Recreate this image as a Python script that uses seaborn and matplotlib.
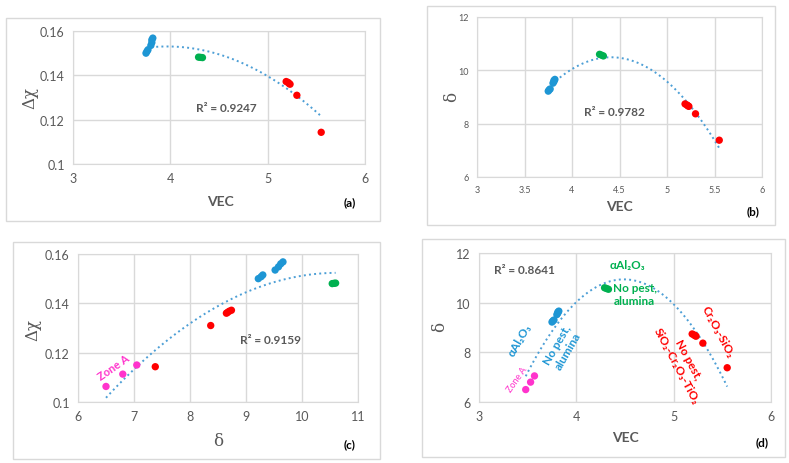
import numpy as np
import pandas as pd
import seaborn as sns
import matplotlib.pyplot as plt
from matplotlib.patches import Rectangle

# point groups (blue = alumina at low VEC, green = alumina near 4.3, red = high VEC, pink = Zone A)
group = ['blue'] * 7 + ['green'] * 3 + ['red'] * 6 + ['zone'] * 3
vec = [3.75, 3.76, 3.77, 3.80, 3.81, 3.81, 3.82,
       4.29, 4.31, 4.33,
       5.19, 5.21, 5.22, 5.23, 5.30, 5.55,
       3.48, 3.53, 3.57]
delta = [9.22, 9.27, 9.30, 9.52, 9.58, 9.62, 9.66,
         10.60, 10.57, 10.54,
         8.74, 8.70, 8.67, 8.65, 8.37, 7.38,
         6.50, 6.80, 7.05]
dchi = [0.1500, 0.1508, 0.1515, 0.1535, 0.1548, 0.1560, 0.1568,
        0.1482, 0.1481, 0.1480,
        0.1372, 0.1368, 0.1363, 0.1360, 0.1310, 0.1143,
        0.1063, 0.1113, 0.1150]

df = pd.DataFrame({'group': group, 'VEC': vec, 'delta': delta, 'dchi': dchi})
no_zone = df[df['group'] != 'zone']

colors = {'blue': '#1e96d4', 'green': '#00b050', 'red': '#ff0000', 'zone': '#ff33cc'}
grey = '#595959'
trend = '#4d9fd6'

plt.rcParams['font.family'] = ['Lato', 'DejaVu Sans']

fig = plt.figure(figsize=(7.89, 4.64), dpi=100)
W, H = 789, 464


def add_frame(x0, y0, x1, y1):
    fig.patches.append(Rectangle((x0 / W, 1 - y1 / H), (x1 - x0) / W, (y1 - y0) / H,
                                 transform=fig.transFigure, fill=False,
                                 edgecolor='#d9d9d9', linewidth=1))


def add_panel(x0, y0, x1, y1):
    return fig.add_axes([x0 / W, 1 - y1 / H, (x1 - x0) / W, (y1 - y0) / H])


def style(ax, xlim, ylim, xticks, yticks, xlabels, ylabels, fs):
    ax.set_xlim(xlim)
    ax.set_ylim(ylim)
    ax.set_xticks(xticks, xlabels)
    ax.set_yticks(yticks, ylabels)
    ax.grid(True, color='#d9d9d9', linewidth=1)
    ax.set_axisbelow(True)
    for s in ax.spines.values():
        s.set_color('#d9d9d9')
    ax.tick_params(length=0, labelsize=fs, labelcolor=grey, pad=6)
    ax.set_xlabel('')
    ax.set_ylabel('')
    leg = ax.get_legend()
    if leg:
        leg.remove()


def draw(ax, data, x, y):
    sns.regplot(data=data, x=x, y=y, order=2, ci=None, scatter=False, truncate=True,
                ax=ax, line_kws=dict(color=trend, linestyle=':', linewidth=1.4))
    sns.scatterplot(data=data, x=x, y=y, hue='group', palette=colors, s=28,
                    edgecolor='none', ax=ax, zorder=3)


def label(x, y, s, **kw):
    fig.text(x / W, 1 - y / H, s, ha='center', va='center', **kw)


R2 = dict(ha='center', va='center', fontsize=8.5, fontweight='bold', color=grey)
TXT = dict(ha='center', va='center', fontsize=8.5, fontweight='bold')
SYM = dict(fontsize=12, color=grey, family='DejaVu Serif')
TITLE = dict(fontsize=10, fontweight='bold', color=grey)
TAG = dict(fontsize=8.5, fontweight='bold', color='black')

# ---------------- (a) ----------------
add_frame(6, 19, 380, 222)
ax = add_panel(73, 32, 365, 165)
draw(ax, no_zone, 'VEC', 'dchi')
style(ax, (3, 6), (0.1, 0.16), [3, 4, 5, 6], [0.1, 0.12, 0.14, 0.16],
      ['3', '4', '5', '6'], ['0.1', '0.12', '0.14', '0.16'], 9)
ax.text(4.58, 0.1253, 'R² = 0.9247', **R2)
label(220, 202, 'VEC', **TITLE)
label(30, 98, 'Δχ', rotation=90, **SYM)
label(350, 203, '(a)', **TAG)

# ---------------- (b) ----------------
add_frame(427, 7, 775, 226)
ax = add_panel(477, 18, 762, 178)
draw(ax, no_zone, 'VEC', 'delta')
style(ax, (3, 6), (6, 12), [3, 3.5, 4, 4.5, 5, 5.5, 6], [6, 8, 10, 12],
      ['3', '3.5', '4', '4.5', '5', '5.5', '6'], ['6', '8', '10', '12'], 6.5)
ax.text(4.45, 8.44, 'R² = 0.9782', **R2)
label(619, 207, 'VEC', **TITLE)
label(452, 97, 'δ', rotation=90, **SYM)
label(753, 212, '(b)', **TAG)

# ---------------- (c) ----------------
add_frame(13, 243, 380, 460)
ax = add_panel(78, 255, 358, 403)
draw(ax, df, 'delta', 'dchi')
style(ax, (6, 11), (0.1, 0.16), [6, 7, 8, 9, 10, 11], [0.1, 0.12, 0.14, 0.16],
      ['6', '7', '8', '9', '10', '11'], ['0.1', '0.12', '0.14', '0.16'], 9)
ax.text(9.43, 0.1255, 'R² = 0.9159', **R2)
ax.text(6.63, 0.1142, 'Zone A', ha='center', va='center', fontsize=8,
        fontweight='bold', color=colors['zone'], rotation=35)
label(218, 441, 'δ', **SYM)
label(33, 330, 'Δχ', rotation=90, **SYM)
label(350, 445, '(c)', **TAG)

# ---------------- (d) ----------------
add_frame(422, 240, 785, 458)
ax = add_panel(479, 254, 771, 403)
draw(ax, df, 'VEC', 'delta')
style(ax, (3, 6), (6, 12), [3, 4, 5, 6], [6, 8, 10, 12],
      ['3', '4', '5', '6'], ['6', '8', '10', '12'], 9)
ax.text(3.15, 11.35, 'R² = 0.8641', **{**R2, 'ha': 'left'})
ax.text(4.52, 11.52, 'αAl₂O₃', color=colors['green'], **TXT)
ax.text(4.38, 10.35, 'No pest,\nalumina', color=colors['green'], linespacing=1.3,
        **{**TXT, 'ha': 'left'})
ax.text(3.42, 8.54, 'αAl₂O₃', color=colors['blue'], rotation=60,
        rotation_mode='anchor', **TXT)
ax.text(3.86, 8.2, 'No pest,\nalumina', color=colors['blue'], rotation=60,
        rotation_mode='anchor', linespacing=1.2, **TXT)
ax.text(3.39, 6.93, 'Zone A', ha='center', va='center', fontsize=6.5,
        color=colors['zone'], rotation=55, rotation_mode='anchor')
ax.text(5.45, 8.86, 'Cr₂O₃-SiO₂', color=colors['red'], rotation=-62,
        rotation_mode='anchor', **TXT)
ax.text(5.09, 7.6, 'No pest,\nSiO₂-Cr₂O₃-TiO₂', color=colors['red'], rotation=-62,
        rotation_mode='anchor', linespacing=1.2, **TXT)
label(625, 438, 'VEC', **TITLE)
label(440, 327, 'δ', rotation=90, **SYM)
label(762, 443, '(d)', **TAG)

fig.savefig('out.png', dpi=100)
